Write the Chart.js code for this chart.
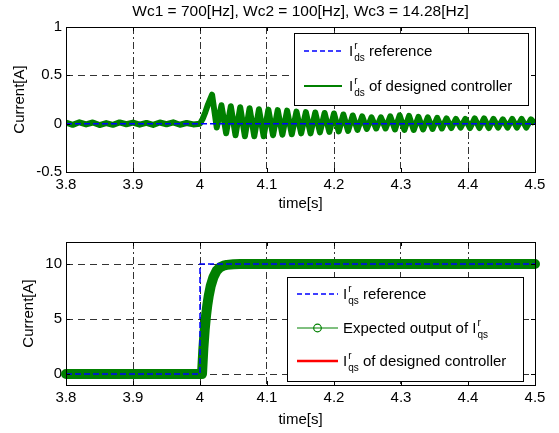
<!DOCTYPE html>
<html><head><meta charset="utf-8">
<script src="https://cdn.jsdelivr.net/npm/chart.js@4.4.1/dist/chart.umd.min.js"></script>
<style>
html,body{margin:0;padding:0;background:#fff;}
#wrap{position:relative;width:559px;height:433px;overflow:hidden;background:#fff;}
.box{position:absolute;left:0;width:559px;}
</style></head><body>
<div id="wrap">
<div class="box" style="top:0;height:216px"><canvas id="c1"></canvas></div>
<div class="box" style="top:216px;height:217px"><canvas id="c2"></canvas></div>
</div>
<script>
// ---------- data ----------
const titleText = 'Wc1 = 700[Hz], Wc2 = 100[Hz], Wc3 = 14.28[Hz]';
const xTicks = [3.8, 3.9, 4.0, 4.1, 4.2, 4.3, 4.4, 4.5];
const yTicksTop = [-0.5, 0, 0.5, 1];
const yTicksBottom = [0, 5, 10];

// top: d-axis current
const idsRefTime = [3.8, 4.5];
const idsRef = [0, 0];
const idsTime = [
 3.80,3.81,3.82,3.83,3.84,3.85,3.86,3.87,3.88,3.89,3.90,3.91,3.92,3.93,3.94,3.95,3.96,3.97,3.98,3.99,
 4.000,4.004,4.008,4.012,4.018,4.025,4.032,4.039,4.046,4.053,4.060,4.067,4.074,4.081,4.088,4.095,
 4.102,4.109,4.116,4.123,4.130,4.137,4.144,4.151,4.158,4.165,4.172,4.179,4.186,4.193,4.200,4.207,
 4.214,4.221,4.228,4.235,4.242,4.249,4.256,4.263,4.270,4.277,4.284,4.291,4.298,4.305,4.312,4.319,
 4.326,4.333,4.340,4.347,4.354,4.361,4.368,4.375,4.382,4.389,4.396,4.403,4.410,4.417,4.424,4.431,
 4.438,4.445,4.452,4.459,4.466,4.473,4.480,4.487,4.494,4.500];
const idsOut = [
 0.010,-0.012,0.014,-0.008,0.012,-0.014,0.006,-0.012,0.013,-0.006,0.011,-0.010,0.008,-0.013,0.012,-0.006,0.014,-0.011,0.007,-0.008,
 0.000,0.050,0.120,0.200,0.300,-0.040,0.190,-0.100,0.180,-0.120,0.170,-0.130,0.160,-0.130,0.150,-0.130,
 0.145,-0.120,0.140,-0.115,0.135,-0.110,0.125,-0.100,0.120,-0.100,0.115,-0.090,0.110,-0.085,0.105,-0.080,
 0.095,-0.075,0.085,-0.065,0.075,-0.055,0.065,-0.050,0.065,-0.050,0.075,-0.060,0.085,-0.065,0.080,-0.065,
 0.070,-0.060,0.065,-0.055,0.060,-0.050,0.055,-0.045,0.050,-0.040,0.050,-0.045,0.055,-0.045,0.055,-0.045,
 0.050,-0.040,0.045,-0.040,0.050,-0.040,0.050,-0.040,0.045,0.000];

// bottom: q-axis current
const iqsRefTime = [3.8, 4.0, 4.0, 4.5];
const iqsRef = [0, 0, 10, 10];
const iqsExpTime = [3.8, 4.003, 4.005, 4.007, 4.009, 4.011, 4.013, 4.016, 4.020, 4.025, 4.030, 4.035, 4.040, 4.050, 4.060, 4.5];
const iqsExp = [0, 0, 2.3, 4.0, 5.3, 6.3, 7.1, 8.0, 8.8, 9.4, 9.7, 9.85, 9.92, 9.98, 10, 10];
const iqsOutTime = [
 3.80,3.81,3.82,3.83,3.84,3.85,3.86,3.87,3.88,3.89,3.90,3.91,3.92,3.93,3.94,3.95,3.96,3.97,3.98,3.99,
 4.000,4.004,4.006,4.008,4.010,4.012,4.014,4.017,4.021,4.025,4.030,4.035,4.040,4.045,4.050,
 4.06,4.07,4.08,4.09,4.10,4.11,4.12,4.13,4.14,4.15,4.16,4.17,4.18,4.19,4.20,4.21,4.22,4.23,4.24,4.25,
 4.26,4.27,4.28,4.29,4.30,4.31,4.32,4.33,4.34,4.35,4.36,4.37,4.38,4.39,4.40,4.41,4.42,4.43,4.44,4.45,
 4.46,4.47,4.48,4.49,4.50];
const iqsOut = [
 0.08,-0.10,0.12,-0.05,0.10,-0.12,0.06,-0.08,0.11,-0.09,0.07,-0.11,0.10,-0.06,0.12,-0.10,0.05,-0.09,0.10,-0.07,
 0.05,0.0,1.6,3.3,4.7,5.8,6.7,7.6,8.4,8.95,9.35,9.6,9.78,9.88,9.95,
 10.08,9.92,10.10,9.90,10.06,9.88,10.12,9.95,10.09,9.90,10.11,9.93,10.07,9.89,10.10,9.94,10.12,9.91,10.05,9.88,
 10.10,9.92,10.08,9.90,10.11,9.94,10.07,9.89,10.12,9.92,10.06,9.90,10.10,9.93,10.09,9.88,10.11,9.95,10.07,9.91,
 10.10,9.92,10.08,9.90,10.05];

// ---------- helpers ----------
const FONT = "'Liberation Sans', Arial, Helvetica, sans-serif";
Chart.defaults.font.family = FONT;
Chart.defaults.font.size = 15;
Chart.defaults.color = '#000';

function pts(xs, ys) { return xs.map((x, i) => ({ x: x, y: ys[i] })); }
function fmt(v) { return String(Math.round(v * 100) / 100); }

function drawRich(ctx, x, y, segs) {
  for (const s of segs) {
    ctx.font = '15px ' + FONT;
    ctx.fillText(s.t, x, y);
    x += ctx.measureText(s.t).width;
    if (s.sup || s.sub) {
      ctx.font = '10px ' + FONT;
      const w1 = s.sup ? ctx.measureText(s.sup).width : 0;
      const w2 = s.sub ? ctx.measureText(s.sub).width : 0;
      if (s.sup) ctx.fillText(s.sup, x + 1, y - 7);
      if (s.sub) ctx.fillText(s.sub, x + 1, y + 5);
      x += Math.max(w1, w2) + 1;
    }
  }
}

function makeDecor(cfg) {
  return {
    id: 'decor',
    afterDraw(chart) {
      const ctx = chart.ctx, a = chart.chartArea;
      const xs = chart.scales.x, ys = chart.scales.y;
      ctx.save();
      // inner ticks
      ctx.strokeStyle = '#000'; ctx.lineWidth = 1; ctx.setLineDash([]);
      ctx.beginPath();
      xTicks.forEach(v => {
        const p = Math.round(xs.getPixelForValue(v)) + 0.5;
        ctx.moveTo(p, a.bottom); ctx.lineTo(p, a.bottom - 4);
        ctx.moveTo(p, a.top); ctx.lineTo(p, a.top + 4);
      });
      cfg.yTicks.forEach(v => {
        const p = Math.round(ys.getPixelForValue(v)) + 0.5;
        ctx.moveTo(a.left, p); ctx.lineTo(a.left + 4, p);
        ctx.moveTo(a.right, p); ctx.lineTo(a.right - 4, p);
      });
      ctx.stroke();
      // box
      ctx.strokeRect(Math.round(a.left) + 0.5, Math.round(a.top) + 0.5,
        Math.round(a.right - a.left), Math.round(a.bottom - a.top));
      // title
      ctx.fillStyle = '#000';
      ctx.textAlign = 'center'; ctx.textBaseline = 'middle';
      if (cfg.title) { ctx.font = '15.5px ' + FONT; ctx.fillText(cfg.title, (a.left + a.right) / 2, 12); }
      ctx.font = '15px ' + FONT;
      ctx.fillText('time[s]', (a.left + a.right) / 2, cfg.xTitleY);
      ctx.save();
      ctx.translate(cfg.yTitleX, (a.top + a.bottom) / 2);
      ctx.rotate(-Math.PI / 2);
      ctx.fillText('Current[A]', 0, 0);
      ctx.restore();
      // legend
      const L = cfg.legend;
      ctx.fillStyle = '#fff';
      ctx.fillRect(L.x, L.y, L.w, L.h);
      ctx.strokeStyle = '#000'; ctx.lineWidth = 1;
      ctx.strokeRect(L.x + 0.5, L.y + 0.5, L.w, L.h);
      ctx.textAlign = 'left'; ctx.textBaseline = 'alphabetic';
      L.items.forEach(it => {
        const y = it.y;
        ctx.strokeStyle = it.color; ctx.lineWidth = it.lw;
        ctx.setLineDash(it.dash || []);
        ctx.beginPath(); ctx.moveTo(L.sx0, y); ctx.lineTo(L.sx1, y); ctx.stroke();
        ctx.setLineDash([]);
        if (it.marker) {
          ctx.lineWidth = 1.2;
          ctx.beginPath(); ctx.arc((L.sx0 + L.sx1) / 2, y, 3.8, 0, Math.PI * 2); ctx.stroke();
        }
        ctx.fillStyle = '#000';
        drawRich(ctx, L.tx, y + 5, it.segs);
      });
      ctx.restore();
    }
  };
}

function baseOptions(yMin, yMax, yTicks, padTop, xHeight) {
  return {
    responsive: true, maintainAspectRatio: false, animation: false,
    layout: { padding: { left: 0, right: 24, top: padTop, bottom: 0 } },
    plugins: { legend: { display: false }, tooltip: { enabled: false }, title: { display: false } },
    elements: { point: { radius: 0 }, line: { tension: 0 } },
    scales: {
      x: {
        type: 'linear', min: 3.8, max: 4.5,
        afterBuildTicks: s => { s.ticks = xTicks.map(v => ({ value: v })); },
        afterFit: s => { s.height = xHeight; },
        ticks: { callback: v => fmt(v), padding: 4, maxRotation: 0, autoSkip: false, color: '#000', font: { size: 15 } },
        grid: { color: 'rgba(0,0,0,0.8)', lineWidth: 1, drawTicks: false },
        border: { display: false, dash: [7, 3, 2, 3] }
      },
      y: {
        type: 'linear', min: yMin, max: yMax,
        afterBuildTicks: s => { s.ticks = yTicks.map(v => ({ value: v })); },
        afterFit: s => { s.width = 66; },
        ticks: { callback: v => fmt(v), padding: 4, autoSkip: false, color: '#000', font: { size: 15 } },
        grid: { color: 'rgba(0,0,0,0.8)', lineWidth: 1, drawTicks: false },
        border: { display: false, dash: [7, 5] }
      }
    }
  };
}

// ---------- top chart ----------
new Chart(document.getElementById('c1'), {
  type: 'line',
  data: {
    datasets: [
      { data: pts(idsRefTime, idsRef), borderColor: '#0000ff', borderWidth: 1.5, borderDash: [6, 3], fill: false },
      { data: pts(idsTime, idsOut), borderColor: '#008000', borderWidth: 6, borderJoinStyle: 'round', fill: false }
    ]
  },
  options: baseOptions(-0.5, 1, yTicksTop, 27, 44),
  plugins: [makeDecor({
    title: titleText, yTicks: yTicksTop, xTitleY: 204, yTitleX: 20,
    legend: {
      x: 294, y: 33, w: 234, h: 72, sx0: 304, sx1: 342, tx: 349,
      items: [
        { y: 51, color: '#0000ff', lw: 1.5, dash: [5, 3], segs: [{ t: 'I', sup: 'r', sub: 'ds' }, { t: ' reference' }] },
        { y: 86, color: '#008000', lw: 2, segs: [{ t: 'I', sup: 'r', sub: 'ds' }, { t: ' of designed controller' }] }
      ]
    }
  })]
});

// ---------- bottom chart ----------
new Chart(document.getElementById('c2'), {
  type: 'line',
  data: {
    datasets: [
      { data: pts(iqsRefTime, iqsRef), borderColor: '#0000ff', borderWidth: 1.5, borderDash: [6, 3], fill: false },
      { data: pts(iqsExpTime, iqsExp), borderColor: '#008000', borderWidth: 10, borderCapStyle: 'round', borderJoinStyle: 'round', fill: false, clip: 6 },
      { data: pts(iqsOutTime, iqsOut), borderColor: '#ff0000', borderWidth: 2.5, borderJoinStyle: 'round', fill: false, clip: 3 }
    ]
  },
  options: baseOptions(-1, 12, yTicksBottom, 26, 48),
  plugins: [makeDecor({
    title: null, yTicks: yTicksBottom, xTitleY: 204, yTitleX: 29,
    legend: {
      x: 287, y: 61, w: 236, h: 104, sx0: 297, sx1: 338, tx: 343,
      items: [
        { y: 78, color: '#0000ff', lw: 1.5, dash: [5, 3], segs: [{ t: 'I', sup: 'r', sub: 'qs' }, { t: ' reference' }] },
        { y: 112, color: '#008000', lw: 1, marker: true, segs: [{ t: 'Expected output of I', sup: 'r', sub: 'qs' }] },
        { y: 145, color: '#ff0000', lw: 2.5, segs: [{ t: 'I', sup: 'r', sub: 'qs' }, { t: ' of designed controller' }] }
      ]
    }
  })]
});
</script>
</body></html>
